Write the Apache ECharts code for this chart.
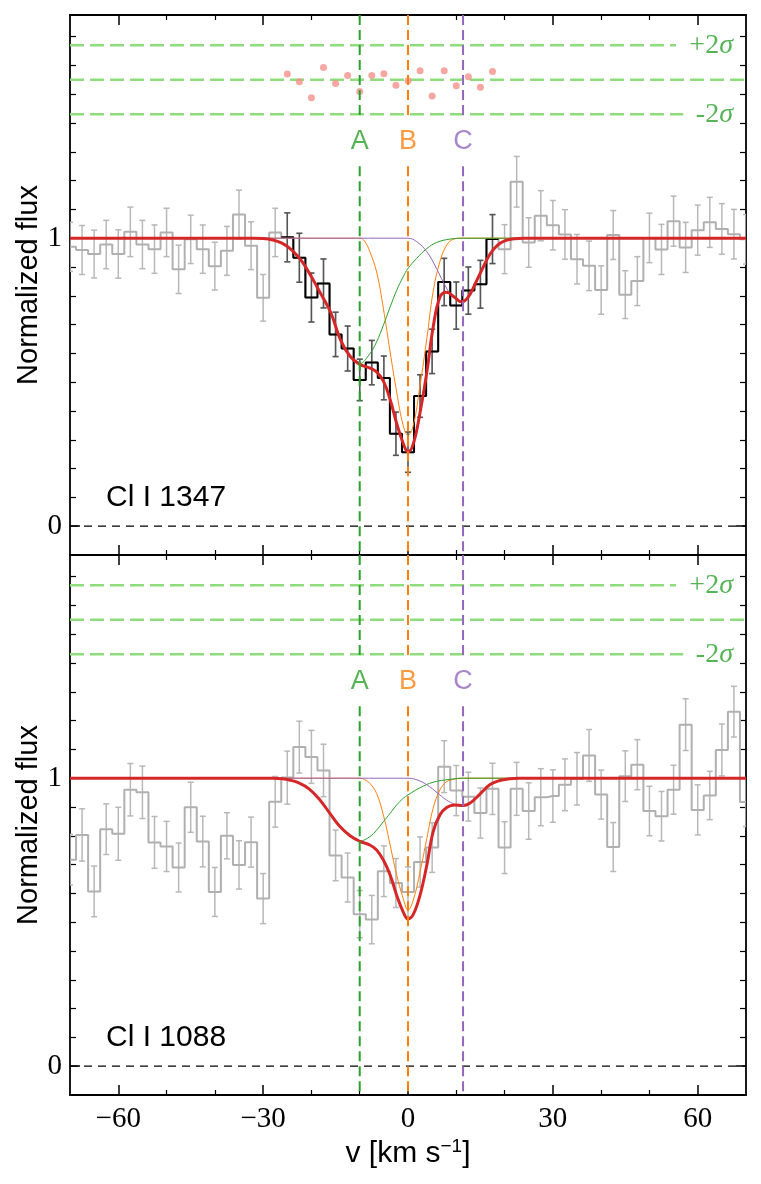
<!DOCTYPE html>
<html>
<head>
<meta charset="utf-8">
<script src="https://cdn.jsdelivr.net/npm/echarts@6/dist/echarts.min.js"></script>
<style>
  html, body { margin: 0; padding: 0; background: #fff; }
  #main { width: 761px; height: 1184px; }
</style>
</head>
<body>
<div id="main"></div>
<script>
// bin centres (km/s)
const vel = [-70,-67.5,-65,-62.5,-60,-57.5,-55,-52.5,-50,-47.5,-45,-42.5,-40,-37.5,-35,-32.5,-30,-27.5,
  -25,-22.5,-20,-17.5,-15,-12.5,-10,-7.5,-5,-2.5,0,2.5,5,7.5,10,12.5,15,17.5,
  20,22.5,25,27.5,30,32.5,35,37.5,40,42.5,45,47.5,50,52.5,55,57.5,60,62.5,65,67.5,70];
const binWidth = 2.5;

// Cl I 1347
const topFlux = [0.970,0.959,0.945,0.978,0.945,1.022,0.978,0.962,1.020,0.892,0.996,0.962,0.903,0.956,1.082,0.974,0.793,1.020,
  1.003,0.932,0.794,0.843,0.666,0.617,0.508,0.568,0.515,0.321,0.257,0.452,0.607,0.848,0.766,0.818,0.840,0.997,
  0.962,1.196,0.985,1.078,1.045,1.013,0.927,0.904,0.820,1.011,0.804,0.851,1.001,0.961,1.059,0.968,1.028,1.055,1.032,1.014,0.996];
const topErr = [0.085,0.085,0.083,0.084,0.084,0.086,0.084,0.084,0.084,0.084,0.084,0.084,0.083,0.085,0.085,0.083,0.081,0.084,
  0.085,0.085,0.085,0.085,0.077,0.078,0.072,0.077,0.076,0.075,0.070,0.074,0.077,0.082,0.082,0.082,0.083,0.085,
  0.085,0.088,0.086,0.087,0.086,0.086,0.086,0.086,0.084,0.085,0.083,0.085,0.086,0.087,0.087,0.087,0.087,0.087,0.088,0.086,0.086];
const fitRange = [-25, 17.5];
// residual points, already shifted onto the sigma band
const topResid = [1.570,1.543,1.488,1.593,1.537,1.565,1.509,1.565,1.571,1.531,1.547,1.581,1.494,1.581,1.529,1.561,1.524,1.579];

// Cl I 1088
const botFlux = [0.717,0.803,0.607,0.823,0.807,0.960,0.951,0.777,0.763,0.690,0.899,0.780,0.605,0.800,0.699,0.778,0.582,0.918,
  1.002,1.108,1.074,1.027,0.732,0.655,0.528,0.509,0.677,0.636,0.605,0.709,0.759,1.040,0.957,0.936,0.879,0.963,
  0.759,0.963,0.886,0.934,0.938,0.977,0.998,1.079,0.943,0.761,1.007,1.047,0.886,0.868,0.960,1.186,0.890,0.940,1.098,1.231,0.917];
const botErr = [0.088,0.091,0.088,0.088,0.092,0.091,0.091,0.090,0.087,0.085,0.087,0.088,0.085,0.080,0.084,0.087,0.087,0.088,
  0.092,0.090,0.092,0.091,0.088,0.085,0.082,0.084,0.088,0.085,0.087,0.087,0.086,0.090,0.087,0.085,0.087,0.089,
  0.090,0.092,0.098,0.099,0.091,0.090,0.091,0.090,0.085,0.085,0.088,0.087,0.086,0.086,0.085,0.090,0.087,0.084,0.090,0.088,0.085];

// fitted profiles [v, flux]
const topTotal = [[-70,1],[-32,1],[-30,0.999],[-28,0.994],[-26,0.982],[-24,0.958],[-22,0.92],[-20,0.866],[-18,0.805],
  [-16,0.742],[-14,0.648],[-12,0.590],[-10,0.562],[-8,0.550],[-6.5,0.536],[-5,0.50],[-3.7,0.44],[-2.4,0.36],[-1,0.288],
  [0,0.258],[1.1,0.286],[2.5,0.395],[3.9,0.535],[5.2,0.69],[6.6,0.795],[8,0.812],[9.7,0.794],[11.1,0.779],[12.5,0.796],
  [14,0.845],[15.5,0.897],[17,0.945],[18.5,0.975],[20,0.991],[22,0.998],[24,1],[70,1]];
const topCompA = [[-70,1],[-32,1],[-30,0.999],[-28,0.994],[-26,0.982],[-24,0.958],[-22,0.92],[-20,0.866],[-18,0.805],
  [-16,0.742],[-14,0.648],[-12,0.590],[-10,0.565],[-7.9,0.599],[-6.5,0.64],[-5.1,0.698],[-3.7,0.761],[-2.35,0.819],
  [-1,0.866],[0,0.895],[1.8,0.93],[3.9,0.964],[5.9,0.985],[8.7,0.997],[11.5,1],[70,1]];
const topCompB = [[-70,1],[-10,1],[-9,0.99],[-7.9,0.953],[-6.5,0.883],[-5.1,0.756],[-3.7,0.605],[-2.35,0.466],[-1,0.35],
  [0,0.315],[1.1,0.35],[2.5,0.489],[3.9,0.651],[5.2,0.814],[6.6,0.918],[8,0.976],[9.5,0.997],[11,1],[70,1]];
const topCompC = [[-70,1],[0,1],[1.8,0.988],[3.9,0.953],[5.9,0.895],[7.3,0.848],[8.7,0.808],[10.1,0.785],[11.4,0.777],
  [12.5,0.796],[14,0.845],[15.5,0.897],[17,0.945],[18.5,0.975],[20,0.991],[22,0.998],[24,1],[70,1]];

const botTotal = [[-70,1],[-28,1],[-26,0.998],[-24.6,0.994],[-22.5,0.983],[-20.5,0.963],[-18.4,0.928],[-16.1,0.876],
  [-14.1,0.832],[-12,0.80],[-10,0.781],[-7.9,0.768],[-6.5,0.751],[-5.1,0.716],[-3.7,0.664],[-2.35,0.594],[-1,0.536],
  [0,0.511],[1.1,0.527],[2.5,0.594],[3.9,0.698],[5.2,0.814],[6.6,0.872],[8,0.898],[9.7,0.907],[11.4,0.905],
  [12.8,0.913],[14.9,0.945],[17,0.978],[19,0.992],[21,0.998],[23,1],[70,1]];
const botCompA = [[-70,1],[-28,1],[-26,0.998],[-24.6,0.994],[-22.5,0.983],[-20.5,0.963],[-18.4,0.928],[-16.1,0.876],
  [-14.1,0.832],[-12,0.80],[-10,0.782],[-7.9,0.797],[-6.5,0.820],[-5.1,0.849],[-3.7,0.878],[-2.35,0.907],[-1,0.930],
  [0,0.942],[2.5,0.967],[5.2,0.986],[8.7,0.996],[11.5,1],[70,1]];
const botCompB = [[-70,1],[-10,1],[-9,0.995],[-7.9,0.982],[-6.5,0.947],[-5.1,0.872],[-3.7,0.768],[-2.35,0.664],[-1,0.583],
  [0,0.542],[1.1,0.577],[2.5,0.675],[3.9,0.791],[5.2,0.895],[6.6,0.959],[8,0.988],[9.7,0.997],[11,1],[70,1]];
const botCompC = [[-70,1],[0,1],[2.5,0.99],[4.5,0.970],[6.6,0.942],[8,0.924],[9.7,0.909],[11.4,0.903],[12.8,0.913],
  [14.9,0.945],[17,0.978],[19,0.992],[21,0.998],[23,1],[70,1]];

// component centres and names
const compNames = ['A', 'B', 'C'];
const compVel = [-10, 0, 11.4];
const compColors = ['#2ca02c', '#ff7f0e', '#9467bd'];

const sigmaMid = 1.55, sigmaStep = 0.12;
const panelNames = ['Cl I 1347', 'Cl I 1088'];

// tick values
const xMajor = [-60, -30, 0, 30, 60];
const xMinor = [-50, -40, -20, -10, 10, 20, 40, 50];
const yMajor = [0, 1];
const yMinor = [0.1,0.2,0.3,0.4,0.5,0.6,0.7,0.8,0.9,1.1,1.2,1.3,1.4,1.5,1.6,1.7];

const XMIN = -70, XMAX = 70, YMIN = -0.1, YMAX = 1.775;
const serif = 'Liberation Serif';
const sans = 'Liberation Sans';

const chart = echarts.init(document.getElementById('main'));

const grids = [
  { left: 70, top: 15, width: 676, height: 540, outerBoundsMode: 'none' },
  { left: 70, top: 555, width: 676, height: 540, outerBoundsMode: 'none' }
];

const xAxes = [], yAxes = [];
function addAxes(g) {
  const showLab = g === 1;
  const line = { show: true, onZero: false, lineStyle: { color: '#000', width: 1.8 } };
  ['bottom', 'top'].forEach(pos => {
    xAxes.push({
      gridIndex: g, type: 'value', min: XMIN, max: XMAX, position: pos,
      axisLine: line, splitLine: { show: false },
      axisTick: { show: true, inside: true, length: 10, customValues: xMajor, lineStyle: { color: '#000', width: 1.5 } },
      axisLabel: pos === 'bottom' && showLab ? {
        show: true, customValues: xMajor, margin: 10, color: '#000',
        fontFamily: serif, fontSize: 29,
        formatter: v => (v < 0 ? '\u2212' + (-v) : String(v))
      } : { show: false },
      name: pos === 'bottom' && showLab ? 'v [km s{sup|\u22121}]' : '',
      nameLocation: 'middle', nameGap: 42, nameMoveOverlap: false,
      nameTextStyle: { fontFamily: sans, fontSize: 30, color: '#000', verticalAlign: 'top',
        rich: { sup: { fontFamily: sans, fontSize: 19, verticalAlign: 'top', padding: [0, 0, 14, 0] } } }
    });
    xAxes.push({
      gridIndex: g, type: 'value', min: XMIN, max: XMAX, position: pos,
      axisLine: { show: false, onZero: false }, splitLine: { show: false }, axisLabel: { show: false },
      axisTick: { show: true, inside: true, length: 5, customValues: xMinor, lineStyle: { color: '#000', width: 1.2 } }
    });
  });
  ['left', 'right'].forEach(pos => {
    yAxes.push({
      gridIndex: g, type: 'value', min: YMIN, max: YMAX, position: pos,
      axisLine: line, splitLine: { show: false },
      axisTick: { show: true, inside: true, length: 10, customValues: yMajor, lineStyle: { color: '#000', width: 1.5 } },
      axisLabel: pos === 'left' ? {
        show: true, customValues: yMajor, margin: 8, color: '#000', fontFamily: serif, fontSize: 29
      } : { show: false },
      name: pos === 'left' ? 'Normalized flux' : '',
      nameLocation: 'middle', nameGap: 27, nameRotate: 90, nameMoveOverlap: false,
      nameTextStyle: { fontFamily: sans, fontSize: 29, color: '#000' }
    });
    yAxes.push({
      gridIndex: g, type: 'value', min: YMIN, max: YMAX, position: pos,
      axisLine: { show: false, onZero: false }, splitLine: { show: false }, axisLabel: { show: false },
      axisTick: { show: true, inside: true, length: 6, customValues: yMinor, lineStyle: { color: '#000', width: 1.2 } }
    });
  });
}
addAxes(0);
addAxes(1);

function errBars(color, width) {
  return function (params, api) {
    const x = api.value(0), y = api.value(1), e = api.value(2);
    const lo = api.coord([x, y - e]);
    const hi = api.coord([x, y + e]);
    const cap = 3;
    const style = { stroke: color, lineWidth: width };
    return {
      type: 'group',
      children: [
        { type: 'line', shape: { x1: lo[0], y1: lo[1], x2: hi[0], y2: hi[1] }, style },
        { type: 'line', shape: { x1: lo[0] - cap, y1: lo[1], x2: lo[0] + cap, y2: lo[1] }, style },
        { type: 'line', shape: { x1: hi[0] - cap, y1: hi[1], x2: hi[0] + cap, y2: hi[1] }, style }
      ]
    };
  };
}

const series = [];
function addPanel(g, flux, err, comps, total, resid) {
  const xi = g * 4, yi = g * 4;
  const ax = { xAxisIndex: xi, yAxisIndex: yi };

  // sigma band
  const sig = [
    [[XMIN, sigmaMid + sigmaStep], [55.5, sigmaMid + sigmaStep]],
    [[XMIN, sigmaMid], [XMAX, sigmaMid]],
    [[XMIN, sigmaMid - sigmaStep], [57, sigmaMid - sigmaStep]]
  ];
  sig.forEach(d => series.push(Object.assign({
    type: 'line', data: d, showSymbol: false, silent: true, z: 1,
    lineStyle: { color: '#8edc7c', width: 2.5, type: [14, 6] }
  }, ax)));
  series.push(Object.assign({
    type: 'scatter', symbolSize: 0, z: 3, silent: true,
    data: [[67.3, sigmaMid + sigmaStep, '+2'], [67.3, sigmaMid - sigmaStep, '-2']],
    label: {
      show: true, position: 'left', distance: 0, color: '#2ca02c',
      fontFamily: serif, fontSize: 28,
      formatter: p => p.value[2] + '{s|\u03c3}',
      rich: { s: { fontFamily: serif, fontStyle: 'italic', fontSize: 28, color: '#2ca02c' } }
    }
  }, ax));

  // data
  const pts = vel.map((v, i) => [v, flux[i], err[i]]);
  series.push(Object.assign({
    type: 'custom', renderItem: errBars('#b8b8b8', 1.5), data: pts, z: 2, clip: true,
    encode: { x: 0, y: 1 }
  }, ax));
  series.push(Object.assign({
    type: 'line', step: 'middle', data: pts.map(p => [p[0], p[1]]), showSymbol: false, z: 2,
    lineStyle: { color: '#b0b0b0', width: 2 }
  }, ax));

  if (resid) {
    const fit = pts.filter(p => p[0] >= fitRange[0] && p[0] <= fitRange[1]);
    series.push(Object.assign({
      type: 'custom', renderItem: errBars('#555555', 1.5), data: fit, z: 3, clip: true,
      encode: { x: 0, y: 1 }
    }, ax));
    const stepData = [[fit[0][0] - binWidth / 2, fit[0][1]]]
      .concat(fit.map(p => [p[0], p[1]]))
      .concat([[fit[fit.length - 1][0] + binWidth / 2, fit[fit.length - 1][1]]]);
    series.push(Object.assign({
      type: 'line', step: 'middle', data: stepData, showSymbol: false, z: 3,
      lineStyle: { color: '#000', width: 2 }
    }, ax));
    series.push(Object.assign({
      type: 'scatter', data: fit.map((p, i) => [p[0], resid[i]]), symbolSize: 7, z: 3,
      itemStyle: { color: '#f5918b' }
    }, ax));
  }

  // fit components (B, A, C) then total
  [[comps[1], compColors[1]], [comps[0], compColors[0]], [comps[2], compColors[2]]].forEach(c => {
    series.push(Object.assign({
      type: 'line', data: c[0], smooth: 0.4, showSymbol: false, z: 4,
      lineStyle: { color: c[1], width: 1 }
    }, ax));
  });
  series.push(Object.assign({
    type: 'line', data: total, smooth: 0.4, showSymbol: false, z: 5,
    lineStyle: { color: '#d62728', width: 3 }
  }, ax));

  // zero level
  series.push(Object.assign({
    type: 'line', data: [[XMIN, 0], [XMAX, 0]], showSymbol: false, z: 5,
    lineStyle: { color: '#000', width: 1.2, type: [8, 6] }
  }, ax));

  // component markers
  compVel.forEach((v, k) => {
    [[[v, YMAX], [v, 1.41]], [[v, 1.25], [v, YMIN]]].forEach(d => {
      series.push(Object.assign({
        type: 'line', data: d, showSymbol: false, z: 6,
        lineStyle: { color: compColors[k], width: 2, type: [10, 5] }
      }, ax));
    });
  });
  series.push(Object.assign({
    type: 'scatter', symbolSize: 0, z: 6, silent: true,
    data: compVel.map((v, k) => ({
      value: [v, 1.337],
      label: { color: compColors[k], formatter: compNames[k] }
    })),
    label: { show: true, position: 'inside', fontFamily: sans, fontSize: 27 }
  }, ax));
}

addPanel(0, topFlux, topErr, [topCompA, topCompB, topCompC], topTotal, topResid);
addPanel(1, botFlux, botErr, [botCompA, botCompB, botCompC], botTotal, null);

chart.setOption({
  animation: false,
  backgroundColor: '#fff',
  grid: grids,
  xAxis: xAxes,
  yAxis: yAxes,
  series: series,
  graphic: panelNames.map((t, g) => ({
    type: 'text', left: 106, top: grids[g].top + 468,
    style: { text: t, fontFamily: sans, fontSize: 30, fill: '#000' }
  }))
});
</script>
</body>
</html>
